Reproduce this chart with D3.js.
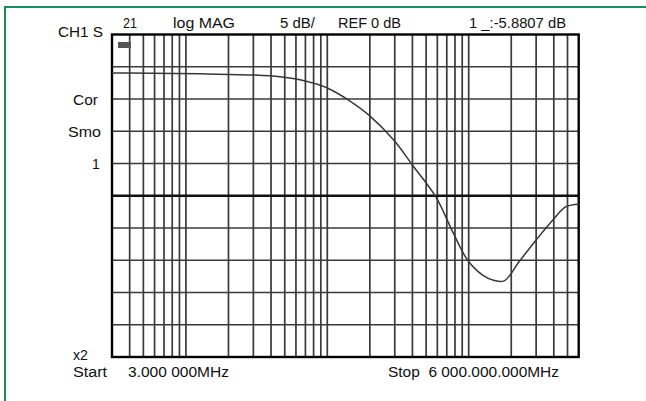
<!DOCTYPE html>
<html>
<head>
<meta charset="utf-8">
<script src="https://cdn.jsdelivr.net/npm/d3@7"></script>
<style>
  body { margin: 0; background: #fff; }
  svg text { font-family: "Liberation Sans", Arial, sans-serif; fill: #111; white-space: pre; }
</style>
</head>
<body>
<svg></svg>
<script>
const width = 646;
const height = 401;

// trace: frequency (MHz) and magnitude (dB)
const freqs = [3, 4, 12.6, 39, 64, 83, 100, 142, 197, 296, 402, 587, 771, 984, 1255, 1500, 1783, 2278, 2990, 3926, 4874, 6000];
const mags = [-5.95, -5.97, -6.1, -6.4, -7.0, -7.65, -8.3, -10.2, -12.5, -16.4, -20.3, -25.2, -30.6, -35.0, -37.3, -38.1, -38.2, -35.2, -31.9, -28.8, -26.7, -26.3];

const headerLabels = ["21", "log MAG", "5 dB/", "REF 0 dB", "1 _:-5.8807 dB"];
const sideLabels = ["Cor", "Smo", "1"];
const footerLabels = ["x2", "Start", "3.000 000MHz", "Stop  6 000.000.000MHz"];

const marginLeft = 112;
const marginTop = 34.5;
const plotRight = 578.7;
const plotBottom = 357;

let svg = d3.select("svg")
    .attr("width", width)
    .attr("height", height);

// green page edge, only top and left
svg.append("line")
    .attr("x1", 4).attr("y1", 7).attr("x2", width).attr("y2", 7)
    .style("stroke", "#17905e").style("stroke-width", 2);
svg.append("line")
    .attr("x1", 5).attr("y1", 6).attr("x2", 5).attr("y2", height)
    .style("stroke", "#17905e").style("stroke-width", 2);

let scX = d3.scaleLog()
    .domain([3, 6000])
    .range([marginLeft, plotRight]);

let scY = d3.scaleLinear()
    .domain([0, -50])
    .range([marginTop, plotBottom]);

// log grid: 1..9 in every decade inside the span
let vTicks = [];
for (let dec = 1; dec <= 1000; dec *= 10) {
    for (let k = 1; k <= 9; k++) {
        let f = k * dec;
        if (f > 3 && f < 6000) vTicks.push(f);
    }
}

let grid = svg.append("g");

grid.selectAll(".vline")
    .data(vTicks)
    .enter()
    .append("line")
    .attr("x1", d => scX(d)).attr("x2", d => scX(d))
    .attr("y1", marginTop).attr("y2", plotBottom)
    .style("stroke", "#3a3a3a")
    .style("stroke-width", 1.7);

grid.selectAll(".hline")
    .data(scY.ticks(10).filter(d => d < 0 && d > -50))
    .enter()
    .append("line")
    .attr("x1", marginLeft).attr("x2", plotRight)
    .attr("y1", d => scY(d)).attr("y2", d => scY(d))
    .style("stroke", d => d === -25 ? "#111" : "#3a3a3a")
    .style("stroke-width", d => d === -25 ? 2.6 : 1.7);

// frame
svg.append("rect")
    .attr("x", marginLeft).attr("y", marginTop)
    .attr("width", plotRight - marginLeft)
    .attr("height", plotBottom - marginTop)
    .style("fill", "none")
    .style("stroke", "#000")
    .style("stroke-width", 2.4);

// marker symbol
svg.append("rect")
    .attr("x", 118).attr("y", 42)
    .attr("width", 13).attr("height", 6)
    .style("fill", "#555");

// trace
let points = freqs.map((f, i) => [scX(f), scY(mags[i])]);
svg.append("path")
    .datum(points)
    .attr("d", d3.line().curve(d3.curveCatmullRom))
    .style("fill", "none")
    .style("stroke", "#383838")
    .style("stroke-width", 1.5);

// texts
function addText(str, x, y, len, anchor) {
    let t = svg.append("text")
        .attr("x", x).attr("y", y)
        .style("font-size", "14px")
        .text(str);
    if (anchor) t.style("text-anchor", anchor);
    if (len) t.attr("textLength", len).attr("lengthAdjust", "spacingAndGlyphs");
    return t;
}

addText("CH1 S", 58, 37, 45);
const headerX = [123, 173, 280, 338, 469];
const headerW = [14, 62, 35, 63, 97];
headerLabels.forEach((s, i) => addText(s, headerX[i], 28, headerW[i]));

const sideY = [105, 137, 169];
const sideX = [73, 68, 92];
const sideW = [25, 33, 0];
sideLabels.forEach((s, i) => addText(s, sideX[i], sideY[i], sideW[i]));

addText(footerLabels[0], 73, 360, 15);
addText(footerLabels[1], 73, 377, 34);
addText(footerLabels[2], 128, 377, 101);
addText(footerLabels[3], 388, 377, 171);
</script>
</body>
</html>
